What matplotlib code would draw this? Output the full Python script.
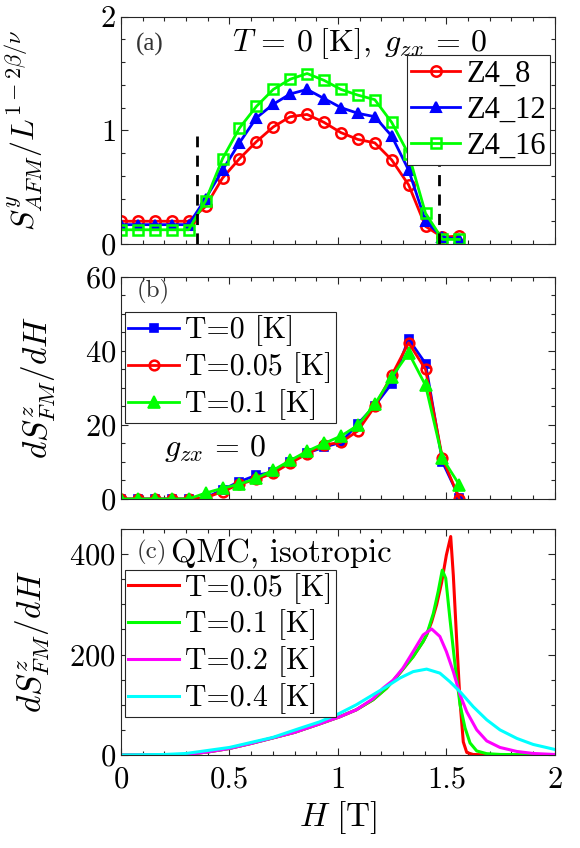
import numpy as np
import matplotlib
matplotlib.use("Agg")
import matplotlib.pyplot as plt
from matplotlib.ticker import MultipleLocator

plt.rcParams['font.family'] = ['cmr10', 'DejaVu Serif']
plt.rcParams['mathtext.fontset'] = 'cm'
plt.rcParams['axes.formatter.use_mathtext'] = True

# --- panel (a): staggered AFM structure factor, T = 0 ---
H_pts = [0.078 * i for i in range(21)]
z4_8 = [0.20, 0.20, 0.20, 0.20, 0.20, 0.33, 0.58, 0.75, 0.90, 1.03, 1.12,
        1.14, 1.07, 0.98, 0.92, 0.89, 0.74, 0.52, 0.155, 0.06, 0.07]
z4_12 = [0.17, 0.17, 0.17, 0.17, 0.17, 0.40, 0.65, 0.89, 1.11, 1.23, 1.32,
         1.36, 1.28, 1.20, 1.15, 1.12, 0.95, 0.65, 0.20, 0.06, 0.04]
z4_16 = [0.125, 0.125, 0.125, 0.125, 0.125, 0.38, 0.75, 1.02, 1.21, 1.36, 1.45,
         1.50, 1.44, 1.36, 1.31, 1.27, 1.07, 0.79, 0.27, 0.04, 0.04]
H_crit = [0.35, 1.467]

# --- panel (b): dS/dH from the finite clusters ---
dS_T0 = [0, 0, 0, 0, 0, 0.3, 2.5, 4.7, 6.4, 7.3, 10.0, 12.4, 14.0, 15.3,
         20.3, 25.2, 31.2, 43.2, 36.6, 10.0, 0.3]
dS_T005 = [0, 0, 0, 0, 0, 0.3, 2.0, 4.0, 5.3, 7.0, 9.7, 12.2, 14.6, 15.3,
           18.4, 25.0, 33.4, 42.2, 35.0, 11.0, 0.0]
dS_T01 = [0, 0, 0, 0, 0, 1.6, 2.9, 4.0, 5.6, 7.8, 10.4, 12.9, 15.0, 17.0,
          19.9, 25.6, 32.9, 39.5, 30.7, 11.0, 3.8]

# --- panel (c): QMC, isotropic ---
H_lo = [0.0, 0.2, 0.3, 0.4, 0.5, 0.6, 0.7, 0.8, 0.916, 1.008, 1.085, 1.162, 1.224, 1.285]
qmc_lo = [0, 0.5, 1, 6, 13, 23, 34, 45, 62, 76, 90, 110, 133, 163]

H_005 = H_lo + [1.347, 1.393, 1.409, 1.432, 1.455, 1.478, 1.50, 1.52, 1.532, 1.547,
                1.563, 1.578, 1.594, 1.623, 1.7, 2.0]
q_005 = qmc_lo + [196, 226, 239, 265, 299, 343, 398, 435, 358, 233, 106, 26, 5, 1, 0, 0]

H_01 = H_lo + [1.347, 1.393, 1.409, 1.44, 1.462, 1.481, 1.497, 1.516, 1.54, 1.563,
               1.586, 1.609, 1.64, 1.686, 1.75, 2.0]
q_01 = qmc_lo + [196, 226, 239, 282, 325, 368, 352, 273, 179, 100, 54, 24, 8, 2.6, 1, 0]

H_02 = [0.0, 0.2, 0.3, 0.4, 0.5, 0.6, 0.7, 0.8, 0.916, 1.008, 1.085, 1.162, 1.208,
        1.255, 1.30, 1.347, 1.393, 1.432, 1.47, 1.50, 1.532, 1.563, 1.594, 1.64,
        1.686, 1.747, 1.825, 1.9, 2.0]
q_02 = [0, 0.5, 1, 6, 13, 23, 34, 45, 62, 76, 90, 112, 133, 149, 173, 206, 239, 251,
        236, 206, 166, 120, 86, 50, 28, 15, 7, 3, 1]

H_04 = [0.0, 0.2, 0.3, 0.4, 0.5, 0.6, 0.7, 0.824, 0.916, 1.008, 1.085, 1.162, 1.224,
        1.285, 1.347, 1.409, 1.47, 1.516, 1.563, 1.624, 1.686, 1.747, 1.825, 1.9, 2.0]
q_04 = [0, 1, 3, 9, 15, 25, 35, 53, 66, 83, 100, 120, 136, 153, 166, 171, 163, 146,
        126, 96, 70, 50, 33, 21, 11]

fig = plt.figure(figsize=(5.8, 8.48), dpi=100)
ax_a = fig.add_axes([0.2086, 0.7123, 0.748, 0.268])
ax_b = fig.add_axes([0.2086, 0.4116, 0.748, 0.2618])
ax_c = fig.add_axes([0.2086, 0.1097, 0.748, 0.2665])

spine_col = '0.15'
for ax in (ax_a, ax_b, ax_c):
    ax.set_xlim(0, 2)
    ax.xaxis.set_major_locator(MultipleLocator(0.5))
    ax.xaxis.set_minor_locator(MultipleLocator(0.1))
    ax.tick_params(which='both', direction='in', top=True, right=True,
                   colors=spine_col, labelcolor='k', labelsize=22, width=0.8)
    ax.tick_params(which='major', length=5)
    ax.tick_params(which='minor', length=3)
    for s in ax.spines.values():
        s.set_color(spine_col)
        s.set_linewidth(0.8)

leg_kw = dict(handletextpad=0.2, borderaxespad=0, fancybox=False,
              framealpha=1, edgecolor='0.15')

# (a)
ax_a.plot(H_pts, z4_8, '-o', color='r', lw=2, ms=7.5, mfc='none', mew=1.8, label='Z4_8')
ax_a.plot(H_pts, z4_12, '-^', color='b', lw=2, ms=7.5, mfc='b', mew=1.5, label='Z4_12')
ax_a.plot(H_pts, z4_16, '-s', color='#00ff00', lw=2, ms=6.5, mfc='none', mew=1.8, label='Z4_16')
for hc in H_crit:
    ax_a.plot([hc, hc], [0, 0.95], '--', color='k', lw=2, dashes=(4, 3))
ax_a.set_ylim(0, 2)
ax_a.yaxis.set_major_locator(MultipleLocator(1))
ax_a.yaxis.set_minor_locator(MultipleLocator(0.2))
ax_a.set_xticklabels([])
ax_a.set_ylabel(r'$S^{y}_{AFM}/L^{1-2\beta/\nu}$', fontsize=23)
ax_a.yaxis.set_label_coords(-0.175, 0.5)
ax_a.text(0.035, 0.88, '(a)', transform=ax_a.transAxes, fontsize=18,
          family='Liberation Serif', color='0.2', va='center')
ax_a.text(0.55, 0.88, r'$T\,=\,0\;[\mathrm{K}],\;g_{zx}\,=\,0$', transform=ax_a.transAxes,
          fontsize=23, ha='center', va='center')
leg_a = ax_a.legend(loc='upper right', bbox_to_anchor=(0.99, 0.83),
                    prop={'family': 'Liberation Serif', 'size': 22},
                    handlelength=1.6, labelspacing=0.22, borderpad=0.15, **leg_kw)
leg_a.get_frame().set_linewidth(0.8)

# (b)
ax_b.plot(H_pts, dS_T0, '-s', color='b', lw=2, ms=5.5, mfc='b', mew=1.2, label='T=0 [K]')
ax_b.plot(H_pts, dS_T005, '-o', color='r', lw=2, ms=7, mfc='none', mew=1.8, label='T=0.05 [K]')
ax_b.plot(H_pts, dS_T01, '-^', color='#00ff00', lw=2, ms=8, mfc='#00ff00', mew=1.2,
          label='T=0.1 [K]')
ax_b.set_ylim(0, 60)
ax_b.yaxis.set_major_locator(MultipleLocator(20))
ax_b.yaxis.set_minor_locator(MultipleLocator(5))
ax_b.set_xticklabels([])
ax_b.set_ylabel(r'$dS^{z}_{FM}/dH$', fontsize=24)
ax_b.yaxis.set_label_coords(-0.145, 0.5)
ax_b.text(0.035, 0.935, '(b)', transform=ax_b.transAxes, fontsize=18, color='0.2',
          va='center')
ax_b.text(0.2, 11.5, r'$g_{zx}\,=\,0$', fontsize=23)
leg_b = ax_b.legend(loc='upper left', bbox_to_anchor=(0.01, 0.84), fontsize=21.5,
                    handlelength=1.7, labelspacing=0.2, borderpad=0.1, **leg_kw)
leg_b.get_frame().set_linewidth(0.8)

# (c)
ax_c.plot(H_005, q_005, color='r', lw=2.2, label='T=0.05 [K]')
ax_c.plot(H_01, q_01, color='#00ff00', lw=2.2, label='T=0.1 [K]')
ax_c.plot(H_02, q_02, color='#ff00ff', lw=2.2, label='T=0.2 [K]')
ax_c.plot(H_04, q_04, color='#00ffff', lw=2.2, label='T=0.4 [K]')
ax_c.set_ylim(0, 450)
ax_c.yaxis.set_major_locator(MultipleLocator(200))
ax_c.yaxis.set_minor_locator(MultipleLocator(50))
ax_c.set_xticks([0, 0.5, 1, 1.5, 2])
ax_c.set_xticklabels(['0', '0.5', '1', '1.5', '2'])
ax_c.tick_params(axis='x', pad=8)
ax_c.set_ylabel(r'$dS^{z}_{FM}/dH$', fontsize=24)
ax_c.yaxis.set_label_coords(-0.16, 0.5)
ax_c.set_xlabel(r'$H\ [\mathrm{T}]$', fontsize=24)
ax_c.text(0.035, 0.895, '(c)', transform=ax_c.transAxes, fontsize=18, color='0.2',
          va='center')
ax_c.text(0.115, 0.895, 'QMC, isotropic', transform=ax_c.transAxes, fontsize=23.5,
          va='center')
leg_c = ax_c.legend(loc='upper left', bbox_to_anchor=(0.01, 0.82), fontsize=21.5,
                    handlelength=1.7, labelspacing=0.2, borderpad=0.1, **leg_kw)
leg_c.get_frame().set_linewidth(0.8)

fig.savefig('out.png', dpi=100)
